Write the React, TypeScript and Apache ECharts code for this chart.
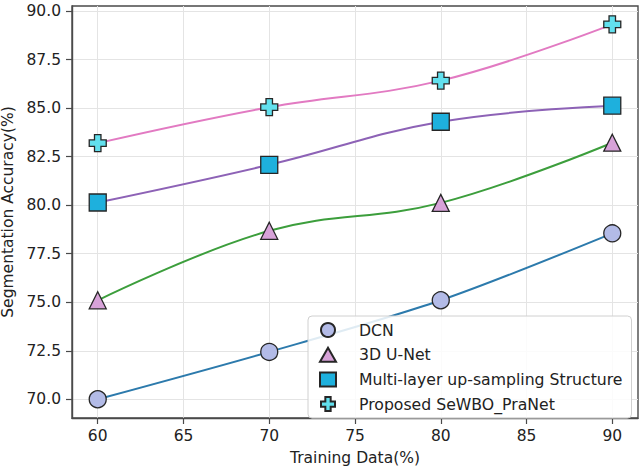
import React, { useEffect, useRef } from "react";
import * as echarts from "echarts";

const trainingData = [60, 70, 80, 90];
const dcn = [70.0, 72.44, 75.1, 78.55];
const unet3d = [75.1, 78.68, 80.12, 83.22];
const multiLayer = [80.14, 82.08, 84.3, 85.13];
const proposed = [83.2, 85.05, 86.42, 89.32];
const seriesNames = [
  "DCN",
  "3D U-Net",
  "Multi-layer up-sampling Structure",
  "Proposed SeWBO_PraNet",
];
const xTicks = [60, 65, 70, 75, 80, 85, 90];
const yTicks = [70, 72.5, 75, 77.5, 80, 82.5, 85, 87.5, 90];

const plusPath =
  "path://M0.31,0 H0.69 V0.31 H1 V0.69 H0.69 V1 H0.31 V0.69 H0 V0.31 H0.31 Z";

const FONT = "DejaVu Sans";

export default function App() {
  const ref = useRef<HTMLDivElement>(null);
  useEffect(() => {
    if (!ref.current) return;
    const chart = echarts.init(ref.current, null, { renderer: "svg" });
    const pts = (vals: number[]) => trainingData.map((x, i) => [x, vals[i]]);
    const edge = { borderColor: "#262626", borderWidth: 1.3 };
    chart.setOption({
      animation: false,
      backgroundColor: "#ffffff",
      grid: {
        left: 72,
        right: 6,
        top: 6,
        bottom: 55,
        show: true,
        containLabel: false,
        outerBoundsMode: "none",
        borderColor: "#4a4a4a",
        borderWidth: 1.4,
        backgroundColor: "transparent",
      },
      xAxis: {
        type: "value",
        min: 58.5,
        max: 91.5,
        name: "Training Data(%)",
        nameLocation: "middle",
        nameGap: 32,
        nameTextStyle: { fontSize: 15.5, color: "#222", fontFamily: FONT },
        axisLine: { show: true, lineStyle: { color: "#4a4a4a", width: 1.4 } },
        axisTick: {
          show: true,
          inside: false,
          length: 6,
          lineStyle: { color: "#4a4a4a", width: 1.2 },
          customValues: xTicks,
        },
        axisLabel: {
          fontSize: 15.5,
          color: "#222",
          fontFamily: FONT,
          margin: 10,
          customValues: xTicks,
          formatter: (v: number) => String(v),
        },
        splitLine: { show: true, lineStyle: { color: "#e4e4e4", width: 1 } },
      },
      yAxis: {
        type: "value",
        min: 69.035,
        max: 90.265,
        name: "Segmentation Accuracy(%)",
        nameLocation: "middle",
        nameGap: 50,
        nameTextStyle: { fontSize: 15.5, color: "#222", fontFamily: FONT },
        axisLine: { show: true, lineStyle: { color: "#4a4a4a", width: 1.4 } },
        axisTick: {
          show: true,
          inside: false,
          length: 6,
          lineStyle: { color: "#4a4a4a", width: 1.2 },
          customValues: yTicks,
        },
        axisLabel: {
          fontSize: 15.5,
          color: "#222",
          fontFamily: FONT,
          margin: 11,
          customValues: yTicks,
          formatter: (v: number) => v.toFixed(1),
        },
        splitLine: { show: true, lineStyle: { color: "#e4e4e4", width: 1 } },
      },
      legend: {
        orient: "vertical",
        left: 308,
        top: 316,
        padding: [6, 9, 6, 11],
        itemGap: 8.7,
        itemWidth: 16,
        itemHeight: 14,
        backgroundColor: "rgba(255,255,255,0.85)",
        borderColor: "#d0d0d0",
        borderWidth: 1,
        borderRadius: 4,
        textStyle: {
          fontSize: 15.7,
          color: "#222",
          fontFamily: FONT,
          padding: [0, 0, 0, 18],
          lineHeight: 14,
        },
        data: [
          { name: seriesNames[0], icon: "circle" },
          { name: seriesNames[1], icon: "triangle" },
          { name: seriesNames[2], icon: "rect" },
          { name: seriesNames[3], icon: plusPath },
        ],
      },
      series: [
        {
          name: seriesNames[0],
          type: "line",
          data: pts(dcn),
          smooth: 0.3,
          symbol: "circle",
          symbolSize: 17,
          lineStyle: { color: "#2c7aac", width: 2 },
          itemStyle: { color: "#b3bbe7", ...edge },
        },
        {
          name: seriesNames[1],
          type: "line",
          data: pts(unet3d),
          smooth: 0.4,
          symbol: "triangle",
          symbolSize: 17,
          lineStyle: { color: "#3c9e3c", width: 2 },
          itemStyle: { color: "#d7a2d8", ...edge },
        },
        {
          name: seriesNames[2],
          type: "line",
          data: pts(multiLayer),
          smooth: 0.4,
          symbol: "rect",
          symbolSize: 17,
          lineStyle: { color: "#8d62b6", width: 2 },
          itemStyle: { color: "#1eb0dd", ...edge },
        },
        {
          name: seriesNames[3],
          type: "line",
          data: pts(proposed),
          smooth: 0.4,
          symbol: plusPath,
          symbolSize: 17,
          lineStyle: { color: "#e27ac2", width: 2 },
          itemStyle: { color: "#62e0ee", ...edge },
        },
      ],
    });
    return () => chart.dispose();
  }, []);
  return (
    <div
      ref={ref}
      style={{ position: "fixed", left: 0, top: 0, width: 644, height: 473 }}
    />
  );
}
